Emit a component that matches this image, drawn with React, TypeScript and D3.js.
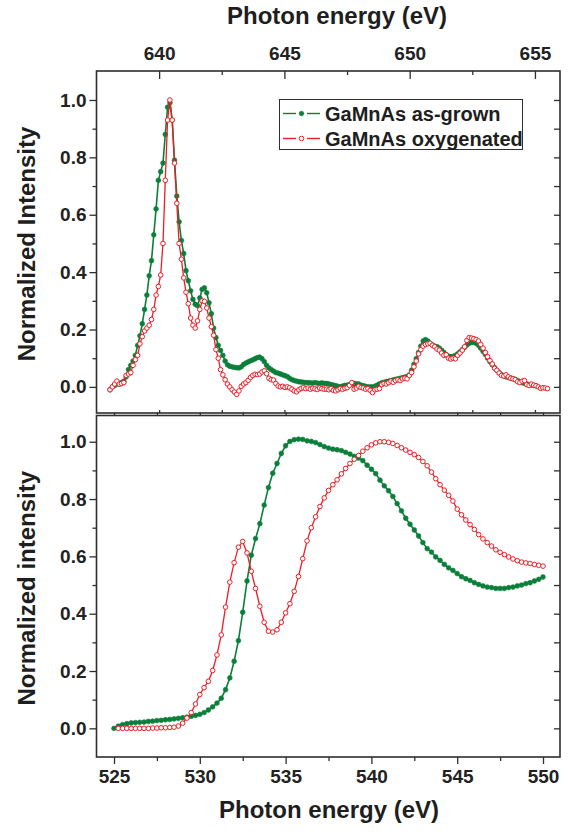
import React, { useEffect, useRef } from "react";
import * as d3 from "d3";

const GREEN = "#0b7f3a";
const RED = "#ee1d25";
const INK = "#2e2e2e";
const FONT = "'Liberation Sans', Arial, Helvetica, sans-serif";

const seriesNames = ["GaMnAs as-grown", "GaMnAs oxygenated"];

// Mn L2,3 edge (top panel): energy grid of the scan + normalized intensities
const mnStart = 638.04;
const mnStep = 0.0919;
const mnGrown = [
  -0.01, 0.0, 0.005, 0.01, 0.01, 0.015, 0.02, 0.035, 0.06, 0.075, 0.09, 0.11, 0.145, 0.178, 0.22, 0.27,
  0.32, 0.387, 0.44, 0.53, 0.62, 0.72, 0.75, 0.78, 0.88, 0.975, 0.99, 0.93, 0.79, 0.665, 0.575, 0.51,
  0.465, 0.405, 0.37, 0.335, 0.305, 0.288, 0.283, 0.31, 0.34, 0.345, 0.328, 0.293, 0.255, 0.205, 0.172, 0.145,
  0.127, 0.11, 0.09, 0.077, 0.072, 0.07, 0.068, 0.067, 0.066, 0.07, 0.078, 0.083, 0.087, 0.091, 0.094, 0.098,
  0.102, 0.104, 0.098, 0.088, 0.075, 0.066, 0.06, 0.055, 0.05, 0.048, 0.045, 0.042, 0.039, 0.036, 0.03, 0.025,
  0.022, 0.02, 0.018, 0.017, 0.016, 0.015, 0.015, 0.014, 0.013, 0.015, 0.013, 0.012, 0.014, 0.012, 0.012, 0.01,
  0.008, 0.006, 0.004, 0.002, 0.0, 0.003, 0.005, 0.006, 0.008, 0.01, 0.012, 0.01, 0.01, 0.006, 0.004, 0.002,
  0.0, 0.0, 0.0, 0.002, 0.006, 0.01, 0.014, 0.016, 0.018, 0.02, 0.022, 0.024, 0.026, 0.028, 0.03, 0.032,
  0.034, 0.036, 0.042, 0.058, 0.078, 0.098, 0.12, 0.142, 0.16, 0.165, 0.16, 0.152, 0.146, 0.142, 0.14, 0.135,
  0.128, 0.12, 0.112, 0.107, 0.105, 0.106, 0.11, 0.115, 0.122, 0.13, 0.138, 0.146, 0.152, 0.155, 0.155, 0.152,
  0.145, 0.135, 0.124, 0.113, 0.1, 0.088, 0.077, 0.067, 0.058, 0.05, 0.043, 0.038, 0.035, 0.033, 0.031, 0.029,
  0.026, 0.022, 0.018, 0.015, 0.012, 0.01, 0.008, 0.006, 0.005, 0.004,
];
const mnOxy = [
  -0.01, 0.0, 0.01, 0.02, 0.01, 0.012, 0.015, 0.04, 0.045, 0.05, 0.075, 0.095, 0.11, 0.15, 0.175, 0.195,
  0.205, 0.215, 0.235, 0.27, 0.32, 0.35, 0.39, 0.5, 0.72, 0.93, 1.0, 0.93, 0.78, 0.64, 0.5, 0.445,
  0.38, 0.33, 0.29, 0.24, 0.215, 0.205, 0.23, 0.27, 0.3, 0.298, 0.275, 0.24, 0.21, 0.18, 0.13, 0.1,
  0.06, 0.042, 0.025, 0.01, 0.0, -0.01, -0.018, -0.026, -0.014, 0.002, 0.01, 0.015, 0.023, 0.033, 0.04, 0.044,
  0.043, 0.045, 0.052, 0.056, 0.046, 0.03, 0.025, 0.024, 0.012, 0.003, 0.0, 0.002, -0.002, 0.0, -0.003, -0.008,
  -0.014, -0.017, -0.01, -0.005, -0.003, -0.006, -0.004, -0.008, -0.005, -0.007, -0.009, -0.004, -0.006, -0.008, -0.008, -0.01,
  -0.006, -0.012, -0.014, -0.01, -0.006, -0.008, -0.005, -0.003, 0.005, 0.015, -0.008, -0.004, 0.002, -0.002, -0.004, -0.008,
  -0.006, -0.012, -0.02, -0.01, -0.008, -0.006, 0.008, 0.012, 0.01, 0.015, 0.02, 0.016, 0.022, 0.025, 0.022, 0.028,
  0.03, 0.028, 0.04, 0.05, 0.07, 0.09, 0.115, 0.13, 0.142, 0.148, 0.15, 0.152, 0.145, 0.14, 0.132, 0.128,
  0.118, 0.11, 0.112, 0.1, 0.097, 0.1, 0.098, 0.11, 0.118, 0.128, 0.14, 0.162, 0.172, 0.17, 0.168, 0.165,
  0.16, 0.148, 0.135, 0.12, 0.105, 0.092, 0.08, 0.065, 0.058, 0.048, 0.04, 0.038, 0.042, 0.035, 0.03, 0.028,
  0.025, 0.018, 0.015, 0.02, 0.022, 0.008, 0.005, 0.01, 0.006, 0.004, 0.0, -0.005, -0.003, -0.004, -0.006,
];

// O K edge (bottom panel)
const oGrownStart = 525.0;
const oOxyStart = 525.25;
const oStep = 0.25;
const oGrown = [
  0.0, 0.008, 0.013, 0.016, 0.019, 0.02, 0.021, 0.022, 0.024, 0.025, 0.027, 0.028, 0.03, 0.031, 0.033, 0.035,
  0.037, 0.039, 0.042, 0.045, 0.049, 0.055, 0.064, 0.075, 0.088, 0.105, 0.135, 0.176, 0.234, 0.306, 0.405, 0.514,
  0.604, 0.662, 0.714, 0.779, 0.84, 0.89, 0.924, 0.959, 0.986, 1.001, 1.007, 1.009, 1.008, 1.003, 1.001, 0.997,
  0.99, 0.983, 0.978, 0.974, 0.972, 0.969, 0.963, 0.957, 0.949, 0.943, 0.934, 0.918, 0.904, 0.889, 0.866, 0.846,
  0.829, 0.809, 0.784, 0.759, 0.733, 0.712, 0.692, 0.671, 0.648, 0.627, 0.615, 0.598, 0.586, 0.572, 0.56, 0.551,
  0.54, 0.529, 0.522, 0.516, 0.508, 0.502, 0.497, 0.493, 0.491, 0.488, 0.488, 0.488, 0.491, 0.493, 0.497, 0.5,
  0.505, 0.508, 0.514, 0.52, 0.528,
];
const oOxy = [
  0.0, 0.0, 0.0, 0.0, 0.0, 0.0, 0.0, 0.0, 0.001, 0.001, 0.002, 0.002, 0.003, 0.004, 0.008, 0.018,
  0.036, 0.055, 0.085, 0.118, 0.142, 0.164, 0.202, 0.256, 0.326, 0.423, 0.51, 0.578, 0.632, 0.652, 0.612, 0.548,
  0.488, 0.426, 0.37, 0.339, 0.336, 0.344, 0.37, 0.403, 0.435, 0.478, 0.53, 0.592, 0.654, 0.7, 0.738, 0.774,
  0.804, 0.83, 0.85, 0.867, 0.888, 0.907, 0.924, 0.939, 0.952, 0.967, 0.979, 0.989, 0.996, 1.0, 1.0, 0.998,
  0.994, 0.987, 0.979, 0.971, 0.963, 0.955, 0.945, 0.931, 0.916, 0.894, 0.871, 0.85, 0.831, 0.813, 0.793, 0.765,
  0.745, 0.727, 0.711, 0.694, 0.676, 0.661, 0.648, 0.636, 0.623, 0.614, 0.606, 0.598, 0.591, 0.585, 0.58, 0.577,
  0.575, 0.572, 0.569, 0.566,
];

const mnMajor = [640, 645, 650, 655];
const mnMinor = [642.5, 647.5, 652.5];
const oMajor = [525, 530, 535, 540, 545, 550];
const oMinor = [527.5, 532.5, 537.5, 542.5, 547.5];
const yMajor = [0, 0.2, 0.4, 0.6, 0.8, 1.0];
const yMinor = [0.1, 0.3, 0.5, 0.7, 0.9];

const toPoints = (vals, start, step) => vals.map((v, i) => [start + i * step, v]);

const App = () => {
  const svgRef = useRef(null);

  useEffect(() => {
    const width = 568;
    const height = 832;
    const svg = d3.select(svgRef.current).attr("width", width).attr("height", height);
    svg.selectAll("*").remove();

    const left = 96.5;
    const right = 560;

    const panels = [
      {
        x: d3.scaleLinear().domain([637.5, 656.0]).range([left, right]),
        y: d3.scaleLinear().domain([-0.091, 1.101]).range([413, 71]),
        major: mnMajor,
        minor: mnMinor,
        labelTop: true,
        ylabel: "Normalized Intensity",
        series: [
          { pts: toPoints(mnGrown, mnStart, mnStep), color: GREEN, filled: true },
          { pts: toPoints(mnOxy, mnStart, mnStep), color: RED, filled: false },
        ],
      },
      {
        x: d3.scaleLinear().domain([523.98, 550.99]).range([left, right]),
        y: d3.scaleLinear().domain([-0.1, 1.0915]).range([757, 415.5]),
        major: oMajor,
        minor: oMinor,
        labelTop: false,
        ylabel: "Normalized intensity",
        series: [
          { pts: toPoints(oGrown, oGrownStart, oStep), color: GREEN, filled: true },
          { pts: toPoints(oOxy, oOxyStart, oStep), color: RED, filled: false },
        ],
      },
    ];

    const styleAxis = (g) => {
      g.select(".domain").remove();
      g.selectAll("line").attr("stroke", INK).attr("stroke-width", 1.3);
      g.selectAll("text")
        .attr("fill", "#222")
        .style("font-family", FONT)
        .style("font-size", "19px")
        .style("font-weight", "bold");
    };

    panels.forEach((p) => {
      const [y0, y1] = p.y.range();
      const g = svg.append("g");

      // curves
      p.series.forEach((s) => {
        const line = d3.line().x((d) => p.x(d[0])).y((d) => p.y(d[1]));
        g.append("path")
          .datum(s.pts)
          .attr("d", line)
          .attr("fill", "none")
          .attr("stroke", s.color)
          .attr("stroke-width", s.filled ? 1.6 : 1.3);
        g.selectAll(null)
          .data(s.pts)
          .enter()
          .append("circle")
          .attr("cx", (d) => p.x(d[0]))
          .attr("cy", (d) => p.y(d[1]))
          .attr("r", s.filled ? 2.4 : 2.3)
          .attr("fill", s.filled ? s.color : "#fff")
          .attr("stroke", s.color)
          .attr("stroke-width", s.filled ? 0.6 : 1);
      });

      // frame
      g.append("rect")
        .attr("x", left)
        .attr("y", y1)
        .attr("width", right - left)
        .attr("height", y0 - y1)
        .attr("fill", "none")
        .attr("stroke", INK)
        .attr("stroke-width", 1.6);

      // left axis
      const yl = g.append("g").attr("transform", `translate(${left},0)`);
      yl.call(d3.axisLeft(p.y).tickValues(yMajor).tickSize(7).tickPadding(3).tickFormat(d3.format(".1f")));
      styleAxis(yl);
      const ylm = g.append("g").attr("transform", `translate(${left},0)`);
      ylm.call(d3.axisLeft(p.y).tickValues(yMinor).tickSize(4).tickFormat(() => ""));
      styleAxis(ylm);

      // right axis, ticks inward
      const yr = g.append("g").attr("transform", `translate(${right},0)`);
      yr.call(d3.axisRight(p.y).tickValues(yMajor.concat(yMinor)).tickSize(-6).tickFormat(() => ""));
      styleAxis(yr);

      if (p.labelTop) {
        const xt = g.append("g").attr("transform", `translate(0,${y1})`);
        xt.call(d3.axisTop(p.x).tickValues(p.major).tickSize(-8).tickPadding(11).tickFormat(d3.format("d")));
        styleAxis(xt);
        const xtm = g.append("g").attr("transform", `translate(0,${y1})`);
        xtm.call(d3.axisTop(p.x).tickValues(p.minor).tickSize(-4).tickFormat(() => ""));
        styleAxis(xtm);
        const xb = g.append("g").attr("transform", `translate(0,${y0})`);
        xb.call(d3.axisBottom(p.x).tickValues(p.major.concat(p.minor)).tickSize(-3).tickFormat(() => ""));
        styleAxis(xb);
      } else {
        const xb = g.append("g").attr("transform", `translate(0,${y0})`);
        xb.call(d3.axisBottom(p.x).tickValues(p.major).tickSize(7).tickPadding(6).tickFormat(d3.format("d")));
        styleAxis(xb);
        const xbm = g.append("g").attr("transform", `translate(0,${y0})`);
        xbm.call(d3.axisBottom(p.x).tickValues(p.minor).tickSize(4).tickFormat(() => ""));
        styleAxis(xbm);
        const xt = g.append("g").attr("transform", `translate(0,${y1})`);
        xt.call(d3.axisTop(p.x).tickValues(p.major.concat(p.minor)).tickSize(3).tickFormat(() => ""));
        styleAxis(xt);
      }

      // y title
      const cy = (y0 + y1) / 2 + 2;
      svg.append("text")
        .attr("transform", `translate(35,${cy}) rotate(-90)`)
        .attr("text-anchor", "middle")
        .attr("fill", "#1e1e1e")
        .style("font-family", FONT)
        .style("font-size", "24px")
        .style("font-weight", "bold")
        .text(p.ylabel);
    });

    // x titles
    [
      { x: 337, y: 24 },
      { x: 329, y: 818 },
    ].forEach((t) => {
      svg.append("text")
        .attr("x", t.x)
        .attr("y", t.y)
        .attr("text-anchor", "middle")
        .attr("fill", "#1e1e1e")
        .style("font-family", FONT)
        .style("font-size", "24px")
        .style("font-weight", "bold")
        .text("Photon energy (eV)");
    });

    // legend
    const lg = svg.append("g");
    lg.append("rect")
      .attr("x", 279.5)
      .attr("y", 99.5)
      .attr("width", 243)
      .attr("height", 50)
      .attr("fill", "#fff")
      .attr("stroke", INK)
      .attr("stroke-width", 1);
    const legendColors = [GREEN, RED];
    seriesNames.forEach((name, i) => {
      const ly = 113.5 + i * 25;
      const c = legendColors[i];
      lg.append("line").attr("x1", 283).attr("x2", 296).attr("y1", ly).attr("y2", ly).attr("stroke", c).attr("stroke-width", 1.4);
      lg.append("line").attr("x1", 307).attr("x2", 320).attr("y1", ly).attr("y2", ly).attr("stroke", c).attr("stroke-width", 1.4);
      lg.append("circle")
        .attr("cx", 301.5)
        .attr("cy", ly)
        .attr("r", 2.3)
        .attr("fill", i === 0 ? c : "#fff")
        .attr("stroke", c)
        .attr("stroke-width", i === 0 ? 0.6 : 1);
      lg.append("text")
        .attr("x", 325)
        .attr("y", ly + 7)
        .attr("fill", "#1e1e1e")
        .style("font-family", FONT)
        .style("font-size", "20px")
        .style("font-weight", "bold")
        .text(name);
    });
  }, []);

  return (
    <div style={{ position: "absolute", left: 0, top: 0 }}>
      <svg ref={svgRef}></svg>
    </div>
  );
};

export default App;
